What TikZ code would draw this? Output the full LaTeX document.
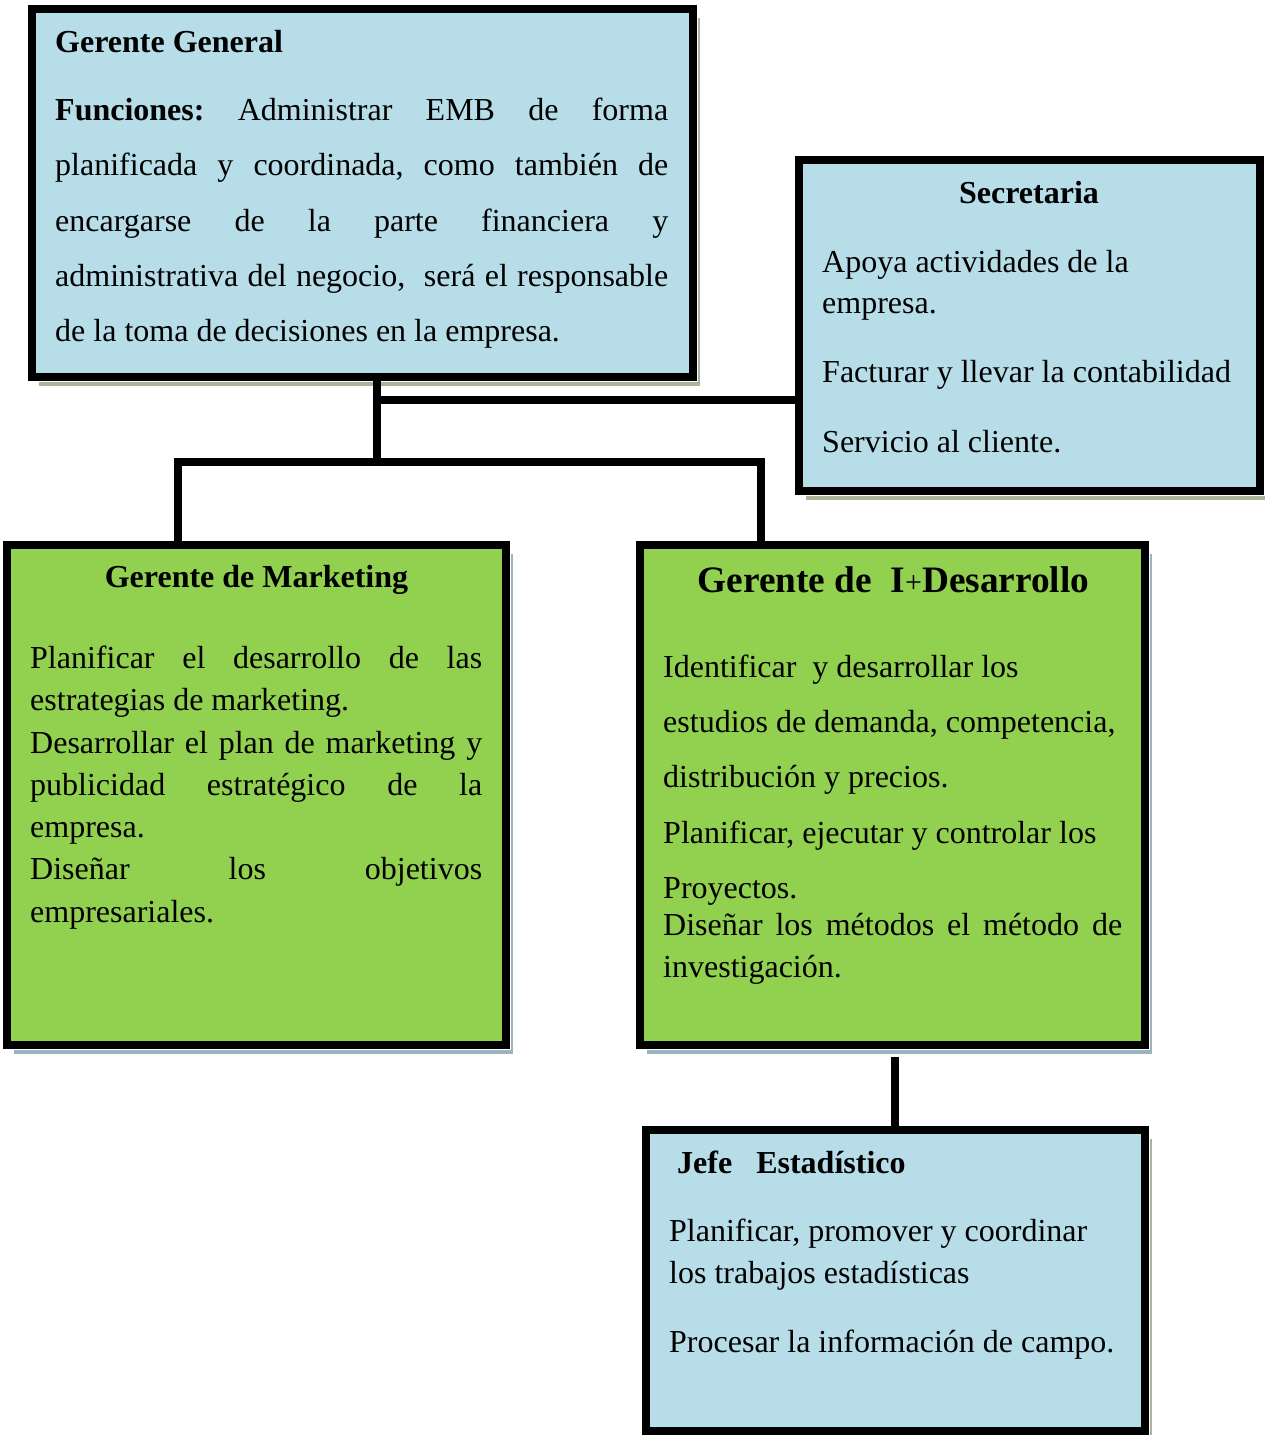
\documentclass[tikz,border=0pt]{standalone}
\usepackage{fontspec}
\setmainfont{Liberation Serif}
\usetikzlibrary{backgrounds}
\definecolor{boxblue}{HTML}{B7DDE8}
\definecolor{boxgreen}{HTML}{92D050}
\definecolor{shblue}{HTML}{A9B49A}
\definecolor{shgreen}{HTML}{9BB3BE}
\newcommand\bodyfs{\fontsize{32}{38}\selectfont}
\newcommand\bigtitlefs{\fontsize{37.3}{44}\selectfont}
\frenchspacing
\begin{document}
\begin{tikzpicture}[x=1pt,y=-1pt,
  box/.style={draw=black, line width=8pt, inner sep=0pt, outer sep=0pt},
  bluebox/.style={box, fill=boxblue},
  greenbox/.style={box, fill=boxgreen},
  conn/.style={draw=black, line width=7.5pt},
  txt/.style={anchor=base west, inner sep=0pt, font=\bodyfs\frenchspacing},
  ttl/.style={anchor=base, inner sep=0pt, font=\bodyfs\bfseries}]
\useasboundingbox (0,0) rectangle (1265,1435);

% boxes
\node[bluebox, minimum width=661pt, minimum height=368pt] (gg) at (362.5,193) {};
\node[bluebox, minimum width=461pt, minimum height=331pt] (sec) at (1029.5,325.5) {};
\node[greenbox, minimum width=499pt, minimum height=500pt] (mk) at (256.5,795) {};
\node[greenbox, minimum width=505pt, minimum height=500pt] (id) at (892.5,795) {};
\node[bluebox, minimum width=499pt, minimum height=301pt] (je) at (895.5,1280.5) {};

% shadows
\begin{scope}[on background layer]
\foreach \n/\c in {gg/shblue, sec/shblue, mk/shgreen, id/shgreen, je/shblue} {
  \fill[\c] ([shift={(6.5,9)}]\n.south west) rectangle ([shift={(6.5,9)}]\n.north east);
  \draw[white, line width=9.5pt] (\n.south west) rectangle (\n.north east);
}
\end{scope}

% connectors
\coordinate (j1) at (377,400);
\coordinate (j2) at (377,462);
\coordinate (jl) at (178,462);
\coordinate (jr) at (761,462);
\coordinate (jd) at (895,1057);
\draw[conn] (j1 |- gg.south) -- (j2);
\draw[conn] (j1) -- (j1 -| sec.west);
\draw[conn] (jl |- mk.north) -- (jl) -- (jr) -- (jr |- id.north);
\draw[conn] (jd) -- (jd |- je.north);

% Gerente General
\node[txt] (ggt) at (55,52) {\bfseries Gerente General};
\node[txt] (gg1) at (55,120) {\makebox[613pt][s]{\textbf{Funciones:} Administrar EMB de forma}};
\node[txt] (gg2) at (55,175) {\makebox[613pt][s]{planificada y coordinada, como también de}};
\node[txt] (gg3) at (55,231) {\makebox[613pt][s]{encargarse de la parte financiera y}};
\node[txt] (gg4) at (55,286) {\makebox[613pt][s]{administrativa del negocio,\ \ será el responsable}};
\node[txt] (gg5) at (55,341) {de la toma de decisiones en la empresa.};

% Secretaria
\node[ttl] (sect) at (1029,203) {Secretaria};
\node[txt] (sec1) at (822,272) {Apoya actividades de la};
\node[txt] (sec2) at (822,313) {empresa.};
\node[txt] (sec3) at (822,382) {Facturar y llevar la contabilidad};
\node[txt] (sec4) at (822,452) {Servicio al cliente.};

% Marketing
\node[ttl] (mkt) at (256.5,587) {Gerente de Marketing};
\node[txt] (mk1) at (30,668) {\makebox[452pt][s]{Planificar el desarrollo de las}};
\node[txt] (mk2) at (30,710) {estrategias de marketing.};
\node[txt] (mk3) at (30,753) {\makebox[452pt][s]{Desarrollar el plan de marketing y}};
\node[txt] (mk4) at (30,795) {\makebox[452pt][s]{publicidad estratégico de la}};
\node[txt] (mk5) at (30,837) {empresa.};
\node[txt] (mk6) at (30,879) {\makebox[452pt][s]{Diseñar los objetivos}};
\node[txt] (mk7) at (30,922) {empresariales.};

% I+Desarrollo
\node[anchor=base, inner sep=0pt, font=\bigtitlefs\bfseries] (idt) at (893.5,592)
  {Gerente de\ \ I{\fontsize{30}{36}\selectfont\mdseries +}Desarrollo};
\node[txt] (id1) at (663,677) {Identificar\ \ y desarrollar los};
\node[txt] (id2) at (663,732) {estudios de demanda, competencia,};
\node[txt] (id3) at (663,787) {distribución y precios.};
\node[txt] (id4) at (663,843) {Planificar, ejecutar y controlar los};
\node[txt] (id5) at (663,898) {Proyectos.};
\node[txt] (id6) at (663,935) {\makebox[459pt][s]{Diseñar los métodos el método de}};
\node[txt] (id7) at (663,977) {investigación.};

% Jefe Estadistico
\node[txt] (jet) at (677,1173) {\bfseries Jefe\ \ \ Estadístico};
\node[txt] (je1) at (669,1241) {Planificar, promover y coordinar};
\node[txt] (je2) at (669,1283) {los trabajos estadísticas};
\node[txt] (je3) at (669,1352) {Procesar la información de campo.};
\end{tikzpicture}
\end{document}
